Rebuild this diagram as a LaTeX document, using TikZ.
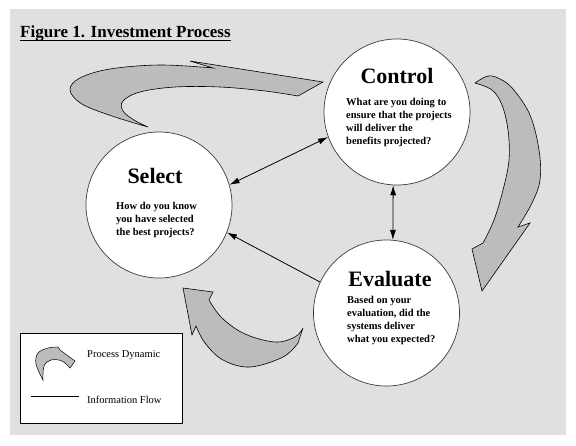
\documentclass[tikz,border=0pt]{standalone}
\usepackage{fontspec}
\setmainfont{Liberation Serif}
\usetikzlibrary{arrows.meta}
\definecolor{bggray}{RGB}{224,224,224}
\definecolor{dyngray}{RGB}{188,188,188}
\definecolor{edgegray}{RGB}{60,60,60}
\begin{document}
\begin{tikzpicture}[x=1pt,y=-1pt,
  stagecircle/.style={circle,draw=edgegray,line width=0.7pt,fill=white,minimum size=146pt,inner sep=0pt},
  stagetitle/.style={font=\fontsize{22}{24}\selectfont\bfseries,inner sep=0pt},
  stagetext/.style={font=\fontsize{10.5}{13}\selectfont\bfseries,align=left,inner sep=0pt,anchor=west},
  flow/.style={line width=0.8pt,black},
  flowtip/.style={-{Latex[length=10pt,width=6pt]}},
  dynamic/.style={fill=dyngray,draw=black,line width=0.6pt,line join=miter},
  legendtext/.style={font=\fontsize{10.5}{12}\selectfont,inner sep=0pt,anchor=west}]
\useasboundingbox (0,0) rectangle (576,445);
\fill[white] (0,0) rectangle (576,445);
\fill[bggray] (10,9) rectangle (566,435);

% title
\node[anchor=base west,inner sep=0pt,font=\fontsize{17}{20}\selectfont\bfseries] (title) at (20,37) {Figure 1. Investment Process};
\draw[line width=1.2pt] ([yshift=-3.5pt]title.base west) -- ([yshift=-3.5pt]title.base east);

% process dynamic arrows
\draw[dynamic] (148,127) -- plot[smooth,tension=0.6] coordinates {(148,127) (112,116) (82,104) (70,90) (80,78) (110,69) (160,65) (213,68)}
  -- (190,61) -- (323,82) -- (298,96)
  -- plot[smooth,tension=0.6] coordinates {(298,96) (265,91) (220,87) (175,87) (140,92) (123,101) (123,111) (134,120) (148,127)} -- cycle;

\draw[dynamic] (475,83) -- plot[smooth,tension=0.6] coordinates {(475,83) (488,76) (500,79) (513,89) (530,115) (539,150) (540,180) (532,203) (518,227)}
  -- (530,223) -- (482,291) -- (472,249) -- (483,243)
  -- plot[smooth,tension=0.6] coordinates {(483,243) (494,220) (503,190) (509,160) (508,130) (502,105) (492,90) (475,83)} -- cycle;

\draw[dynamic] (183,288) -- (213,292) -- (209,300)
  -- plot[smooth,tension=0.6] coordinates {(209,300) (222,318) (245,334) (275,342) (295,337) (303,328)}
  -- (298,343)
  -- plot[smooth,tension=0.6] coordinates {(298,343) (283,357) (250,367) (223,360) (205,343) (196,326)}
  -- (192,335) -- cycle;

% stages
\node[stagecircle] (control) at (397,112) {};
\node[stagecircle] (select) at (159,205) {};
\node[stagecircle] (evaluate) at (386.5,313) {};

\node[stagetitle] (controlT) at (397,76) {Control};
\node[stagetext] (controlB) at (346,122) {What are you doing to\\ensure that the projects\\will deliver the\\benefits projected?};
\node[stagetitle] (selectT) at (155,176) {Select};
\node[stagetext] (selectB) at (116,220) {How do you know\\you have selected\\the best projects?};
\node[stagetitle] (evaluateT) at (390,279) {Evaluate};
\node[stagetext] (evaluateB) at (347,320) {Based on your\\evaluation, did the\\systems deliver\\what you expected?};

% information flow
\draw[flow,{Latex[length=10pt,width=6pt]}-{Latex[length=10pt,width=6pt]}] (select.16) -- (control.200);
\draw[flow,{Latex[length=10pt,width=6pt]}-{Latex[length=10pt,width=6pt]}] (control.-93) -- (evaluate.85);
\draw[flow,flowtip] (evaluate.155) -- (select.-22);

% legend
\draw[black,line width=0.7pt,fill=white] (20,333) rectangle (182,423);
\draw[dynamic,line width=0.5pt] (43,380) -- plot[smooth,tension=0.6] coordinates {(43,380) (36,364) (38,353) (48,348) (58,347)}
  -- (60,350) -- (75,361) -- (70,368)
  -- plot[smooth,tension=0.6] coordinates {(70,368) (62,361) (51,360) (44,366) (43,380)} -- cycle;
\node[legendtext] (legA) at (87,355) {Process Dynamic};
\coordinate (legL) at (31,396);
\coordinate (legR) at (79,396);
\draw[line width=0.6pt] (legL) -- (legR);
\node[legendtext] (legB) at (87,400) {Information Flow};
\end{tikzpicture}
\end{document}
